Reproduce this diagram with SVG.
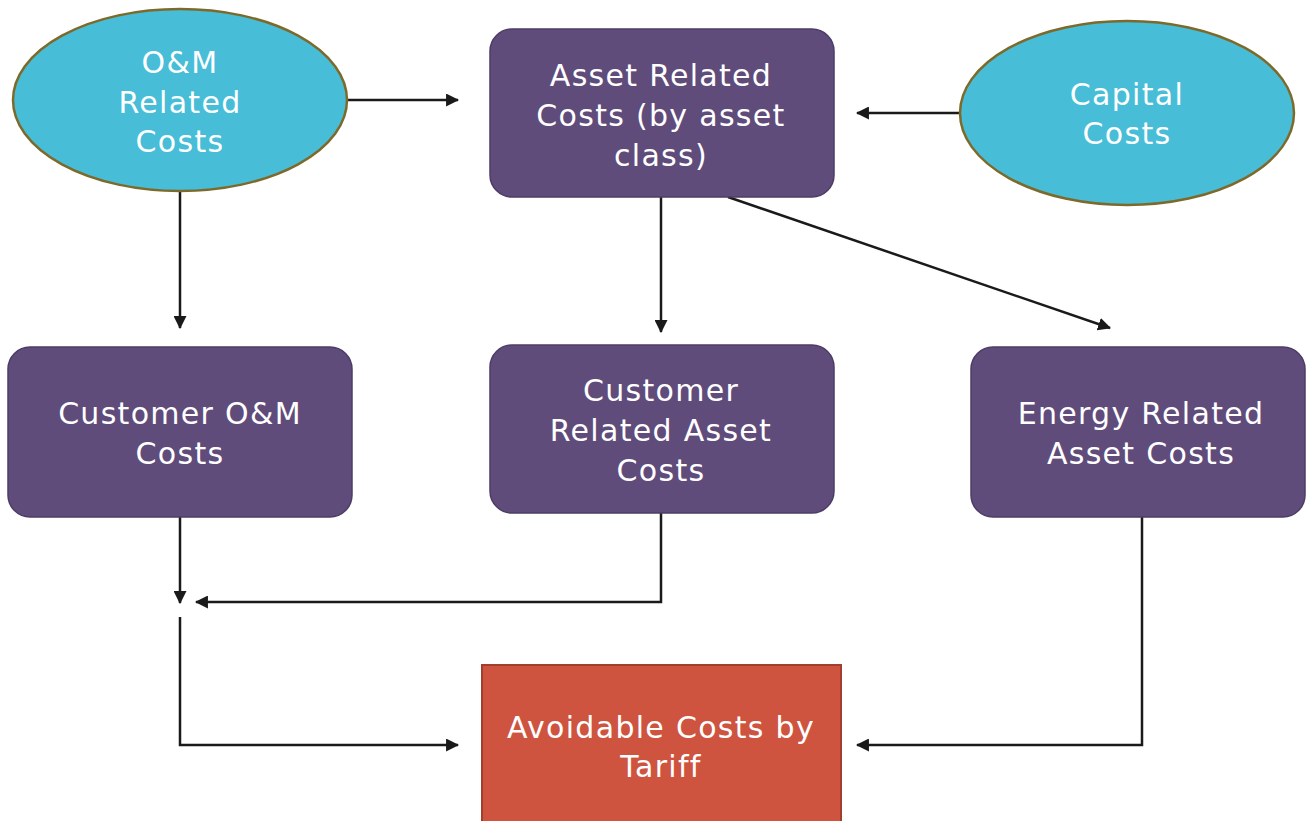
<svg xmlns="http://www.w3.org/2000/svg" width="1306" height="821" viewBox="0 0 1306 821">
<style>
.ell{fill:#47BDD7;stroke:#7D6A2A;stroke-width:2.5}
.box{fill:#5F4C7B;stroke:#4D3C66;stroke-width:1.5}
.red{fill:#CE543F;stroke:#A13E2E;stroke-width:2}
.t{font-family:"DejaVu Sans",sans-serif;font-size:30px;letter-spacing:1.3px;fill:#FFFFFF;text-anchor:middle}
.c{fill:none;stroke:#1A1A1A;stroke-width:2.5}
</style>
<defs>
<marker id="ah" viewBox="0 0 12 12" refX="11" refY="6" markerWidth="13" markerHeight="13" markerUnits="userSpaceOnUse" orient="auto">
<path d="M0,0 L12,6 L0,12 Z" fill="#1A1A1A"/>
</marker>
</defs>
<rect width="1306" height="821" fill="#FFFFFF"/>
<g id="connectors">
<path class="c" d="M347,100 L458,100" marker-end="url(#ah)"/>
<path class="c" d="M960,113 L857,113" marker-end="url(#ah)"/>
<path class="c" d="M180,191 L180,328" marker-end="url(#ah)"/>
<path class="c" d="M661,197 L661,332" marker-end="url(#ah)"/>
<path class="c" d="M728,197 L1110,328" marker-end="url(#ah)"/>
<path class="c" d="M180,517 L180,603" marker-end="url(#ah)"/>
<path class="c" d="M661,513 L661,602 L196,602" marker-end="url(#ah)"/>
<path class="c" d="M180,617 L180,745 L458,745" marker-end="url(#ah)"/>
<path class="c" d="M1142,517 L1142,745 L857,745" marker-end="url(#ah)"/>
</g>
<g id="om">
<ellipse class="ell" cx="180" cy="100" rx="167" ry="91"/>
<text class="t" x="180" y="73">O&amp;M</text>
<text class="t" x="180" y="113">Related</text>
<text class="t" x="180" y="152">Costs</text>
</g>
<g id="asset">
<rect class="box" x="490" y="29" width="344" height="168" rx="22"/>
<text class="t" x="661" y="86">Asset Related</text>
<text class="t" x="661" y="126">Costs (by asset</text>
<text class="t" x="661" y="166">class)</text>
</g>
<g id="capital">
<ellipse class="ell" cx="1127" cy="113" rx="167" ry="92"/>
<text class="t" x="1127" y="105">Capital</text>
<text class="t" x="1127" y="144">Costs</text>
</g>
<g id="custom">
<rect class="box" x="8" y="347" width="344" height="170" rx="22"/>
<text class="t" x="180" y="424">Customer O&amp;M</text>
<text class="t" x="180" y="464">Costs</text>
</g>
<g id="custasset">
<rect class="box" x="490" y="345" width="344" height="168" rx="22"/>
<text class="t" x="661" y="401">Customer</text>
<text class="t" x="661" y="441">Related Asset</text>
<text class="t" x="661" y="481">Costs</text>
</g>
<g id="energy">
<rect class="box" x="971" y="347" width="334" height="170" rx="22"/>
<text class="t" x="1141" y="424">Energy Related</text>
<text class="t" x="1141" y="464">Asset Costs</text>
</g>
<g id="avoidable">
<rect class="red" x="482" y="665" width="359" height="170"/>
<text class="t" x="661" y="738">Avoidable Costs by</text>
<text class="t" x="661" y="777">Tariff</text>
</g>
</svg>
